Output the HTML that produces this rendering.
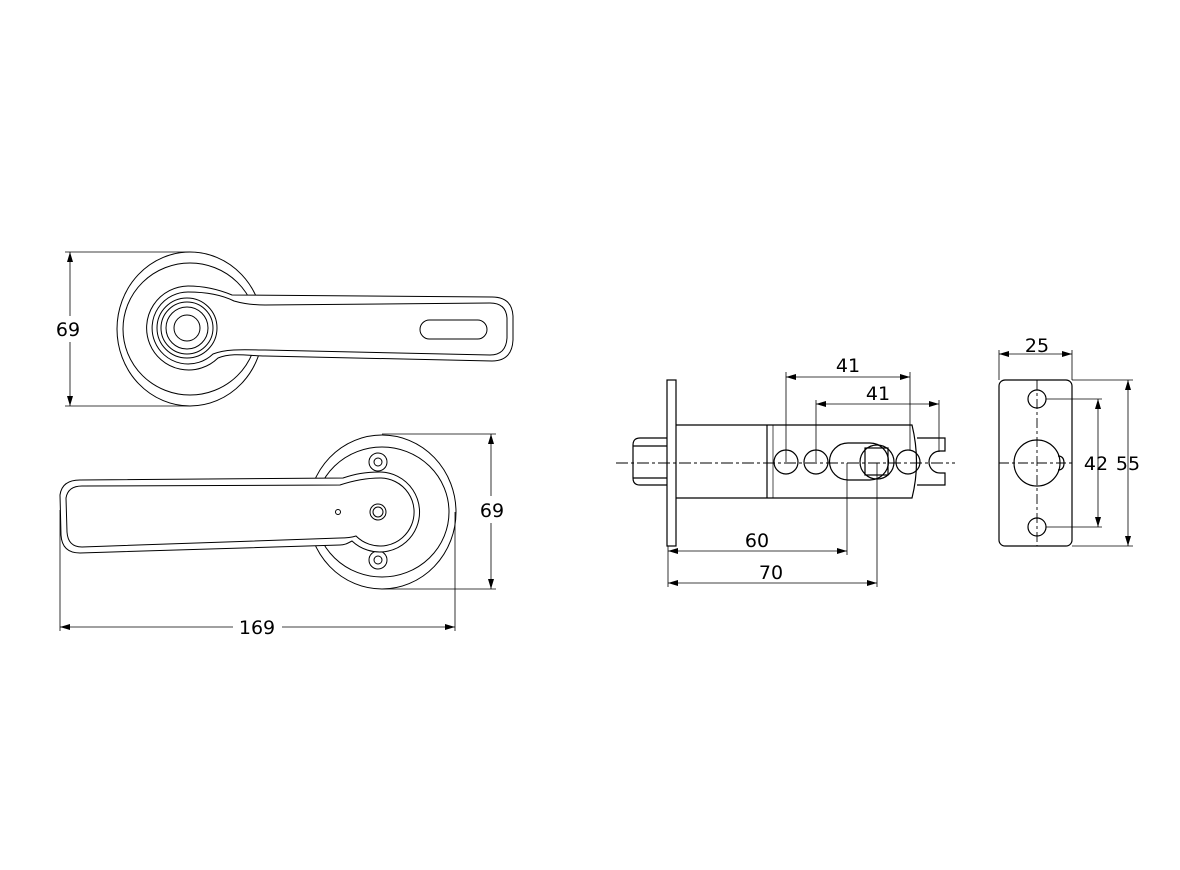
<!DOCTYPE html>
<html><head><meta charset="utf-8"><style>
html,body{margin:0;padding:0;background:#fff;}
svg{display:block;}
text{font-family:"DejaVu Sans","Liberation Sans",sans-serif;font-size:19px;fill:#000;}
</style></head><body>
<svg width="1180" height="870" viewBox="0 0 1180 870" xmlns="http://www.w3.org/2000/svg">
<defs>
<marker id="a" viewBox="0 0 10 6" refX="10" refY="3" markerWidth="10" markerHeight="6" orient="auto-start-reverse" markerUnits="userSpaceOnUse"><path d="M0,0 L10,3 L0,6 z" fill="#000"/></marker>
</defs>
<g fill="none" stroke="#000" stroke-width="1">
<!-- top lever -->
<ellipse cx="190" cy="329" rx="73" ry="77"/>
<ellipse cx="190" cy="329" rx="67" ry="66"/>
<path d="M232,295 C220,290 205,286 188,286 A42,42 0 1 0 218,358 C232,352 250,356 265,356 L492,361 Q512,361 513,340 L513,316 Q512,297 492,297 Z" fill="#fff"/>
<path d="M234,301 C222,295 205,292 188,292 A36,36 0 1 0 213,354 C228,348 250,350 265,350 L490,355 Q506,355 507,338 L507,318 Q506,303 490,303 L265,305 Q248,305 234,301 Z"/>
<circle cx="187" cy="328" r="30"/>
<circle cx="187" cy="328" r="26"/>
<circle cx="187" cy="328" r="21"/>
<circle cx="187" cy="328" r="13"/>
<rect x="420" y="320" width="67" height="19" rx="9.5"/>
<!-- bottom lever -->
<ellipse cx="382" cy="512" rx="74" ry="77"/>
<ellipse cx="382" cy="512" rx="67" ry="65"/>
<circle cx="378" cy="462" r="9"/><circle cx="378" cy="462" r="4"/>
<circle cx="378" cy="560" r="9"/><circle cx="378" cy="560" r="4"/>
<path d="M343,478 C355,474 365,472 380,472 A40,40 0 1 1 352,541 C348,543 345,545 340,545 L80,553 Q62,553 61,535 L60,495 Q62,480 80,480 Z" fill="#fff"/>
<path d="M340,485 C352,481 365,478 380,478 A34,34 0 1 1 356,536 C350,538 345,538 340,538 L82,547 Q68,547 67,532 L66,498 Q68,486 82,486 Z"/>
<circle cx="378" cy="512" r="8"/><circle cx="378" cy="512" r="5"/>
<circle cx="338" cy="512" r="2.5"/>
</g>
<!-- left dimensions -->
<g stroke="#000" stroke-width="0.8" fill="none">
<line x1="65" y1="252" x2="190" y2="252"/><line x1="65" y1="406" x2="190" y2="406"/>
<line x1="70" y1="252" x2="70" y2="316" marker-start="url(#a)"/><line x1="70" y1="342" x2="70" y2="406" marker-end="url(#a)"/>
<line x1="382" y1="434" x2="496" y2="434"/><line x1="382" y1="589" x2="496" y2="589"/>
<line x1="491" y1="434" x2="491" y2="496" marker-start="url(#a)"/><line x1="491" y1="523" x2="491" y2="589" marker-end="url(#a)"/>
<line x1="60" y1="510" x2="60" y2="631"/><line x1="455" y1="512" x2="455" y2="631"/>
<line x1="60" y1="627" x2="233" y2="627" marker-start="url(#a)"/><line x1="282" y1="627" x2="455" y2="627" marker-end="url(#a)"/>
</g>
<text x="68" y="336" text-anchor="middle">69</text>
<text x="492" y="517" text-anchor="middle">69</text>
<text x="257" y="634" text-anchor="middle">169</text>
<!-- latch -->
<g fill="none" stroke="#000" stroke-width="1.2">
<rect x="667" y="380" width="9" height="166"/>
<path d="M676,425 L912,425 Q921,462 912,498 L676,498"/>
<line x1="767" y1="425" x2="767" y2="498"/><line x1="773" y1="425" x2="773" y2="498" stroke-width="0.7"/>
<path d="M667,438 L640,438 Q633,438 633,445 L633,478 Q633,485 640,485 L667,485"/>
<line x1="633" y1="446" x2="667" y2="446"/><line x1="633" y1="478" x2="667" y2="478"/>
<circle cx="786" cy="462" r="12"/><circle cx="816" cy="462" r="12"/>
<path d="M848,443 L870,443 A18.5,18.5 0 0 1 870,480 L848,480 A18.5,18.5 0 0 1 848,443 Z"/>
<circle cx="877" cy="462" r="17"/>
<rect x="865" y="448" width="23" height="27"/>
<circle cx="908" cy="462" r="12"/>
<path d="M917,438 L945,438 L945,451 L940,451 A11,11 0 0 0 940,473 L945,473 L945,485 L917,485"/>
</g>
<line x1="616" y1="463" x2="955" y2="463" stroke="#000" stroke-width="0.9" stroke-dasharray="12,3,3,3"/>
<g stroke="#000" stroke-width="0.8" fill="none">
<line x1="786" y1="462" x2="786" y2="372"/><line x1="910" y1="450" x2="910" y2="372"/>
<line x1="786" y1="377" x2="910" y2="377" marker-start="url(#a)" marker-end="url(#a)"/>
<line x1="816" y1="462" x2="816" y2="400"/><line x1="939" y1="452" x2="939" y2="400"/>
<line x1="816" y1="404" x2="939" y2="404" marker-start="url(#a)" marker-end="url(#a)"/>
<line x1="847" y1="463" x2="847" y2="555"/><line x1="877" y1="463" x2="877" y2="587"/>
<line x1="668" y1="546" x2="668" y2="587"/>
<line x1="668" y1="551" x2="847" y2="551" marker-start="url(#a)" marker-end="url(#a)"/>
<line x1="668" y1="583" x2="877" y2="583" marker-start="url(#a)" marker-end="url(#a)"/>
</g>
<text x="848" y="372" text-anchor="middle">41</text>
<text x="878" y="400" text-anchor="middle">41</text>
<text x="757" y="547" text-anchor="middle">60</text>
<text x="771" y="579" text-anchor="middle">70</text>
<!-- strike plate -->
<g fill="none" stroke="#000" stroke-width="1.2">
<rect x="999" y="380" width="73" height="166" rx="6"/>
<circle cx="1037" cy="399" r="9"/><circle cx="1037" cy="527" r="9"/>
<circle cx="1037" cy="463" r="23"/>
<path d="M1058,456 Q1064,456 1064,463 Q1064,470 1058,470"/>
</g>
<g stroke="#000" stroke-width="0.9" stroke-dasharray="10,3,3,3">
<line x1="1037" y1="380" x2="1037" y2="546"/>
<line x1="999" y1="463" x2="1072" y2="463"/>
</g>
<g stroke="#000" stroke-width="0.8" fill="none">
<line x1="999" y1="350" x2="999" y2="380"/><line x1="1072" y1="350" x2="1072" y2="380"/>
<line x1="999" y1="354" x2="1072" y2="354" marker-start="url(#a)" marker-end="url(#a)"/>
<line x1="1046" y1="399" x2="1102" y2="399"/><line x1="1046" y1="527" x2="1102" y2="527"/>
<line x1="1098" y1="399" x2="1098" y2="527" marker-start="url(#a)" marker-end="url(#a)"/>
<line x1="1072" y1="380" x2="1133" y2="380"/><line x1="1072" y1="546" x2="1133" y2="546"/>
<line x1="1128" y1="380" x2="1128" y2="546" marker-start="url(#a)" marker-end="url(#a)"/>
</g>
<text x="1037" y="352" text-anchor="middle">25</text>
<text x="1096" y="470" text-anchor="middle">42</text>
<text x="1128" y="470" text-anchor="middle">55</text>
</svg>
</body></html>
